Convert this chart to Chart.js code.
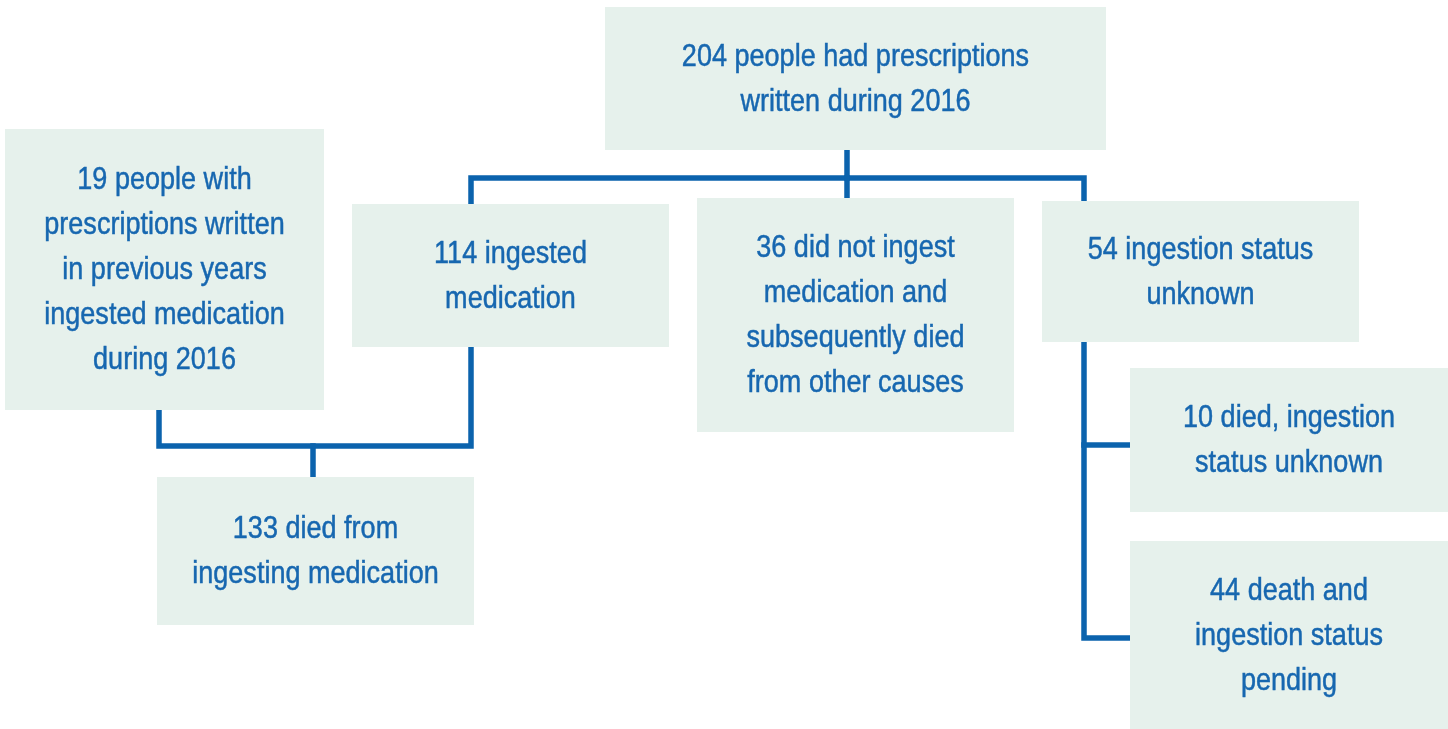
<!DOCTYPE html>
<html><head><meta charset="utf-8">
<script src="https://cdn.jsdelivr.net/npm/chart.js@4"></script>
<style>html,body{margin:0;padding:0;background:#fff;overflow:hidden}canvas{display:block}</style>
</head><body>
<canvas id="c" width="1448" height="729"></canvas>
<script>
// ---- data ----
const nodeIds = ["total", "previous", "ingested", "notIngested", "unknown", "diedUnknown", "pending", "diedIngesting"];
const counts = [204, 19, 114, 36, 54, 10, 44, 133];
const labelTemplates = [
  ["{n} people had prescriptions", "written during 2016"],
  ["{n} people with", "prescriptions written", "in previous years", "ingested medication", "during 2016"],
  ["{n} ingested", "medication"],
  ["{n} did not ingest", "medication and", "subsequently died", "from other causes"],
  ["{n} ingestion status", "unknown"],
  ["{n} died, ingestion", "status unknown"],
  ["{n} death and", "ingestion status", "pending"],
  ["{n} died from", "ingesting medication"]
];

// ---- layout (diagram units on hidden linear scales) ----
const boxX0 = [605, 5, 352, 697, 1042, 1130, 1130, 157];
const boxX1 = [1106, 324, 669, 1014, 1359, 1448, 1448, 474];
const boxY0 = [7, 129, 204, 198, 201, 368, 541, 477];
const boxY1 = [150, 410, 347, 432, 342, 512, 729, 625];
const connectors = [
  [[847,150],[847,178]],
  [[471,204],[471,178],[1084,178],[1084,201]],
  [[847,178],[847,198]],
  [[159,410],[159,446],[471,446],[471,347]],
  [[313,446],[313,477]],
  [[1084,342],[1084,638],[1130,638]],
  [[1084,445],[1130,445]]
];

const LINE_COLOR = '#0b63ad';
const BOX_COLOR = '#e6f1ec';
const TEXT_COLOR = '#1767b0';
const FONT_PX = 32;
const FONT = FONT_PX + "px 'Liberation Sans', Arial, sans-serif";
const SQUEEZE = 0.845;
const LINE_H = 45;

const boxPlugin = {
  id: 'boxes',
  afterDatasetsDraw(chart) {
    const {ctx, scales:{x, y}} = chart;
    ctx.save();
    for (let i = 0; i < nodeIds.length; i++) {
      const px0 = x.getPixelForValue(boxX0[i]), px1 = x.getPixelForValue(boxX1[i]);
      const py0 = y.getPixelForValue(boxY0[i]), py1 = y.getPixelForValue(boxY1[i]);
      ctx.fillStyle = BOX_COLOR;
      ctx.fillRect(px0, py0, px1 - px0, py1 - py0);
      const lines = labelTemplates[i].map(s => s.replace('{n}', counts[i]));
      ctx.fillStyle = TEXT_COLOR;
      ctx.strokeStyle = TEXT_COLOR;
      ctx.lineWidth = 0.5;
      ctx.font = FONT;
      ctx.textAlign = 'center';
      ctx.textBaseline = 'alphabetic';
      const cx = (px0 + px1) / 2, cy = (py0 + py1) / 2;
      const start = cy - (lines.length - 1) * LINE_H / 2;
      lines.forEach((t, k) => {
        ctx.save();
        ctx.translate(cx, start + k * LINE_H + 0.31 * FONT_PX);
        ctx.scale(SQUEEZE, 1);
        ctx.fillText(t, 0, 0);
        ctx.strokeText(t, 0, 0);
        ctx.restore();
      });
    }
    ctx.restore();
  }
};

const datasets = connectors.map(seg => ({
  data: seg.map(p => ({x: p[0], y: p[1]})),
  showLine: true,
  borderColor: LINE_COLOR,
  borderWidth: 5.5,
  borderCapStyle: 'square',
  borderJoinStyle: 'miter',
  pointRadius: 0,
  fill: false,
  tension: 0
}));

new Chart(document.getElementById('c'), {
  type: 'scatter',
  data: { datasets },
  options: {
    responsive: false,
    devicePixelRatio: 1,
    animation: false,
    layout: { padding: 0 },
    plugins: { legend: {display: false}, tooltip: {enabled: false} },
    scales: {
      x: { type: 'linear', min: 0, max: 1448, display: false },
      y: { type: 'linear', min: 0, max: 729, reverse: true, display: false }
    }
  },
  plugins: [boxPlugin]
});
</script>
</body></html>
